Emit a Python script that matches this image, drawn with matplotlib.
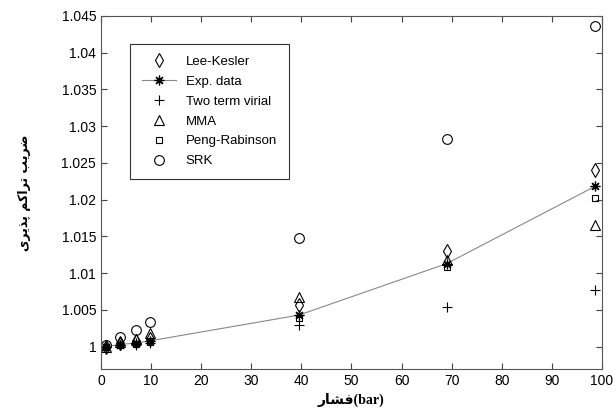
import numpy as np
import matplotlib.pyplot as plt

# pressure (bar)
p = [1.0, 3.8, 6.9, 9.8, 39.5, 69.0, 98.6]
# compressibility factor, per model
lee_kesler = [1.0000, 1.0005, 1.0008, 1.0011, 1.0057, 1.0130, 1.0240]
exp_data   = [1.0000, 1.0003, 1.0005, 1.0008, 1.0043, 1.0113, 1.0218]
virial     = [1.0000, 1.0002, 1.0003, 1.0005, 1.0030, 1.0054, 1.0077]
mma        = [1.0000, 1.0006, 1.0010, 1.0018, 1.0067, 1.0118, 1.0166]
peng_rob   = [1.0000, 1.0002, 1.0004, 1.0006, 1.0039, 1.0108, 1.0203]
srk        = [1.0002, 1.0013, 1.0023, 1.0033, 1.0148, 1.0283, 1.0437]

# Persian labels written in visual (presentation-form) order
xlab = '\uFEAD\uFE8E\uFEB8\uFED3(bar)'
ylab = ('\uFBFC\uFEAE\uFBFE\uFEAC\uFB58 '
        '\uFEE2\uFB90\uFE8D\uFEAE\uFE97 '
        '\uFE90\uFBFE\uFEAE\uFEBF')

plt.rcParams['font.family'] = ['Liberation Sans', 'DejaVu Sans']

fig = plt.figure(figsize=(6.16, 4.2), dpi=100)
ax = fig.add_axes([0.164, 0.122, 0.813, 0.84])

ax.plot(p, lee_kesler, 'd', mfc='none', mec='k', ms=7.5, mew=0.8, label='Lee-Kesler')
ax.plot(p, exp_data, '-', color='#888888', lw=0.8, marker=(8, 2, 0), mec='k', ms=7, mew=0.9,
        label='Exp. data')
ax.plot(p, virial, '+', color='k', ms=7, mew=0.8, label='Two term virial')
ax.plot(p, mma, '^', mfc='none', mec='k', ms=7, mew=0.8, label='MMA')
ax.plot(p, peng_rob, 's', mfc='none', mec='k', ms=5, mew=0.8, label='Peng-Rabinson')
ax.plot(p, srk, 'o', mfc='none', mec='k', ms=7, mew=0.8, label='SRK')

ax.set_xlim(0, 100)
ax.set_ylim(0.997, 1.045)
ax.set_xticks(np.arange(0, 101, 10))
ax.set_yticks([1, 1.005, 1.01, 1.015, 1.02, 1.025, 1.03, 1.035, 1.04, 1.045])
ax.set_yticklabels(['1', '1.005', '1.01', '1.015', '1.02', '1.025', '1.03', '1.035', '1.04', '1.045'])
ax.tick_params(direction='in', top=True, right=True, labelsize=10, length=4, color='#444444')
for s in ax.spines.values():
    s.set_color('#555555')

ax.set_xlabel(xlab, family=['Liberation Serif', 'DejaVu Sans'], fontweight='bold', fontsize=10)
ax.set_ylabel(ylab, family=['DejaVu Sans'], fontweight='bold', fontsize=9, labelpad=22)

leg = ax.legend(loc='upper left', bbox_to_anchor=(0.045, 0.94), fontsize=9.5, fancybox=False,
                edgecolor='#333333', framealpha=1, handlelength=2.6, borderpad=0.9,
                labelspacing=0.58, handletextpad=0.7, numpoints=1)
leg.get_frame().set_linewidth(0.8)

plt.savefig('out.png', dpi=100)
